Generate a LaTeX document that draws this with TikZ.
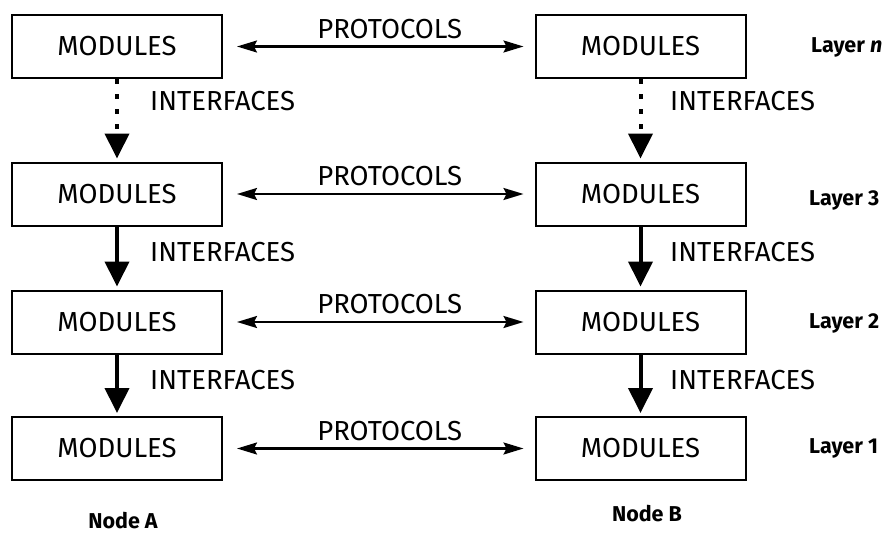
\documentclass[tikz,border=0pt]{standalone}
\usepackage{fontspec}
\setmainfont{Fira Sans}
\usetikzlibrary{arrows.meta}
\begin{document}
\begin{tikzpicture}[x=1pt,y=-1pt,
 box/.style={draw, line width=2pt, minimum width=210pt, minimum height=63pt, inner sep=0pt, font=\fontsize{27.5}{33}\selectfont},
 lbl/.style={inner sep=0pt, font=\fontsize{27.5}{33}\selectfont},
 lay/.style={inner sep=0pt, anchor=west, font=\bfseries\fontsize{21.5}{26}\selectfont},
 nodelbl/.style={inner sep=0pt, font=\bfseries\fontsize{21.5}{26}\selectfont},
 iface/.style={line width=4pt, -{Triangle[length=25pt,width=24pt]}, shorten >=3pt},
 dotiface/.style={iface, dash pattern=on 5pt off 10pt},
 proto/.style={line width=2.2pt, {Stealth[length=20pt,width=12pt,inset=3pt]}-{Stealth[length=20pt,width=12pt,inset=3pt]}, shorten <=14pt, shorten >=11pt},
]
\useasboundingbox (0,0) rectangle (887,538);
% left column
\node[box] (L1) at (117,46.5) {MODULES};
\node[box] (L2) at (117,194) {MODULES};
\node[box] (L3) at (117,322) {MODULES};
\node[box] (L4) at (117,448.5) {MODULES};
% right column
\node[box] (R1) at (640.5,46.5) {MODULES};
\node[box] (R2) at (640.5,194) {MODULES};
\node[box] (R3) at (640.5,322) {MODULES};
\node[box] (R4) at (640.5,448.5) {MODULES};
% protocols
\foreach \i in {1,...,4}{
  \draw[proto] (L\i.east) -- (R\i.west) node[lbl, midway, above=7pt, xshift=11pt] (P\i) {PROTOCOLS};
}
% interfaces
\draw[dotiface] (L1.south) -- (L2.north);
\draw[dotiface] (R1.south) -- (R2.north);
\draw[iface] (L2.south) -- (L3.north);
\draw[iface] (R2.south) -- (R3.north);
\draw[iface] (L3.south) -- (L4.north);
\draw[iface] (R3.south) -- (R4.north);
\node[lbl, anchor=west] (IL1) at (150,101) {INTERFACES};
\node[lbl, anchor=west] (IR1) at (670,101) {INTERFACES};
\node[lbl, anchor=west] (IL2) at (150,252) {INTERFACES};
\node[lbl, anchor=west] (IR2) at (670,252) {INTERFACES};
\node[lbl, anchor=west] (IL3) at (150,380) {INTERFACES};
\node[lbl, anchor=west] (IR3) at (670,380) {INTERFACES};
% layer labels
\node[lay] (Ln) at (811,47) {Layer \textit{n}};
\node[lay] (Lc) at (809,200) {Layer 3};
\node[lay] (Lb) at (809,323) {Layer 2};
\node[lay] (La) at (809,448) {Layer 1};
% node labels
\node[nodelbl] (NA) at (123,521) {Node A};
\node[nodelbl] (NB) at (647,514) {Node B};
\end{tikzpicture}
\end{document}
